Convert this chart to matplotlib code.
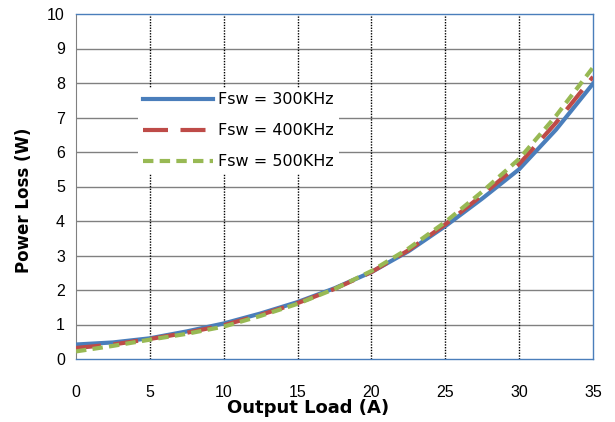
import matplotlib.pyplot as plt
import numpy as np

plt.rcParams['font.family'] = ['Liberation Sans', 'DejaVu Sans']

load = [0, 2.5, 5, 7.5, 10, 12.5, 15, 17.5, 20, 22.5, 25, 27.5, 30, 32.5, 35]
loss_300 = [0.42, 0.48, 0.60, 0.80, 1.03, 1.32, 1.65, 2.05, 2.52, 3.12, 3.85, 4.65, 5.50, 6.65, 7.98]
loss_400 = [0.32, 0.42, 0.58, 0.76, 0.98, 1.28, 1.62, 2.03, 2.52, 3.15, 3.90, 4.75, 5.65, 6.85, 8.18]
loss_500 = [0.22, 0.38, 0.56, 0.73, 0.94, 1.25, 1.60, 2.03, 2.55, 3.20, 3.97, 4.85, 5.80, 7.05, 8.45]


def main():
    fig = plt.figure(figsize=(6.15, 4.22), dpi=100)
    ax = fig.add_axes([76 / 615, 63 / 422, 517 / 615, 345 / 422])

    ax.plot(load, loss_300, color='#4a7ebb', lw=3, label='Fsw = 300KHz', zorder=3)
    ax.plot(load, loss_400, color='#be4b48', lw=3, dashes=(6, 3), label='Fsw = 400KHz', zorder=4)
    ax.plot(load, loss_500, color='#98b954', lw=3, dashes=(2.5, 1.5), label='Fsw = 500KHz', zorder=5)

    ax.set_xlim(0, 35)
    ax.set_ylim(0, 10)
    ax.set_xticks(np.arange(0, 36, 5))
    ax.set_yticks(np.arange(0, 11, 1))

    # 横グリッド実線、縦グリッド点線
    for y in range(1, 10):
        ax.axhline(y, color='#808080', lw=1, zorder=1)
    for x in range(5, 35, 5):
        ax.axvline(x, color='black', lw=1, ls=(0, (1, 1)), zorder=1)

    for side in ['top', 'bottom', 'right']:
        ax.spines[side].set_color('#4a7ebb')
        ax.spines[side].set_linewidth(1)
    ax.spines['left'].set_color('#808080')

    ax.tick_params(length=0, labelsize=11.5, pad=8)
    ax.tick_params(axis='x', pad=19)
    ax.set_xlabel('Output Load (A)', fontsize=13, fontweight='bold',
                  family='DejaVu Sans', va='center')
    ax.xaxis.set_label_coords(0.449, -0.142)
    ax.set_ylabel('Power Loss (W)', fontsize=12, fontweight='bold',
                  family='DejaVu Sans', va='center')
    ax.yaxis.set_label_coords(-0.1, 0.46)

    leg = ax.legend(loc='upper left', bbox_to_anchor=(0.105, 0.81), frameon=True,
                    prop={'family': 'DejaVu Sans', 'size': 11.5},
                    handlelength=4.4, handletextpad=0.3,
                    labelspacing=1.0, borderpad=0.3)
    leg.get_frame().set_edgecolor('none')
    leg.get_frame().set_facecolor('white')
    leg.get_frame().set_alpha(1)

    fig.savefig('out.png', dpi=100)


if __name__ == "__main__":
    main()
